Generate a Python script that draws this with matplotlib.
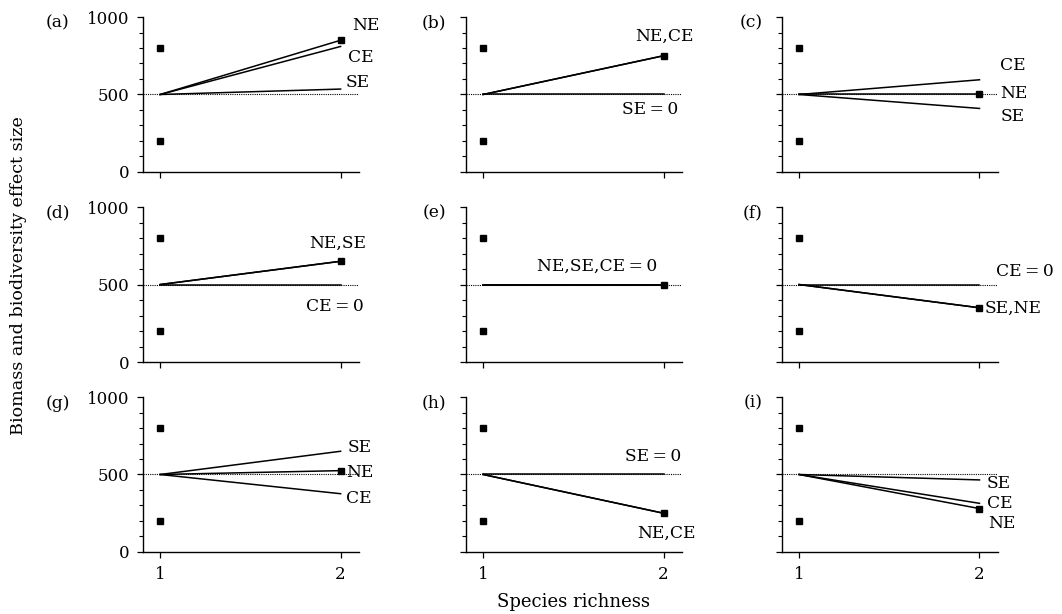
import numpy as np
import matplotlib.pyplot as plt
from matplotlib.ticker import MultipleLocator

plt.rcParams['font.family'] = ['DejaVu Serif']

# Data
panel_tags = ['(a)', '(b)', '(c)', '(d)', '(e)', '(f)', '(g)', '(h)', '(i)']
richness = [1, 2]
mono = [800, 200]          # monoculture yields at richness 1
start = 500                # expected yield (mean of monocultures)
ne = [850, 750, 500, 650, 500, 350, 525, 250, 280]
se = [535, 500, 410, 650, 500, 350, 650, 500, 465]
ce = [810, 750, 595, 500, 500, 500, 376, 250, 314]

eq0 = '\u2009=\u20090'
# annotation text per panel: (text, x, y, ha)
notes = [
    [('NE', 2.065, 948, 'left'), ('CE', 2.04, 740, 'left'), ('SE', 2.03, 580, 'left')],
    [('NE,CE', 2.165, 874, 'right'), ('SE' + eq0, 2.08, 406, 'right')],
    [('CE', 2.115, 690, 'left'), ('NE', 2.115, 505, 'left'), ('SE', 2.115, 355, 'left')],
    [('NE,SE', 2.14, 768, 'right'), ('CE' + eq0, 2.13, 361, 'right')],
    [('NE,SE,CE' + eq0, 1.965, 619, 'right')],
    [('CE' + eq0, 2.09, 581, 'left'), ('SE,NE', 2.03, 348, 'left')],
    [('SE', 2.04, 671, 'left'), ('NE', 2.03, 516, 'left'), ('CE', 2.03, 342, 'left')],
    [('SE' + eq0, 2.1, 619, 'right'), ('NE,CE', 2.18, 123, 'right')],
    [('SE', 2.04, 445, 'left'), ('CE', 2.04, 310, 'left'), ('NE', 2.05, 181, 'left')],
]

fs_tick = 12
fs_note = 12.3

fig = plt.figure(figsize=(10.62, 6.14), dpi=100)
lefts = [0.1347, 0.4388, 0.7363]
bottoms = [0.7199, 0.4104, 0.1010]
w, h = 0.2030, 0.2524

for i in range(9):
    r, c = divmod(i, 3)
    ax = fig.add_axes([lefts[c], bottoms[r], w, h])
    ax.set_xlim(0.905, 2.1)
    ax.set_ylim(0, 1000)

    ax.axhline(start, color='k', lw=0.8, ls=(0, (1, 1)), zorder=1)
    for val in (ce[i], se[i], ne[i]):
        ax.plot(richness, [start, val], color='k', lw=1.1, zorder=2)
    ax.plot([1, 1], mono, 'ks', ms=5, zorder=3)
    ax.plot([2], [ne[i]], 'ks', ms=5, zorder=3)

    for txt, x, y, ha in notes[i]:
        ax.text(x, y, txt, ha=ha, va='center', fontsize=fs_note, clip_on=False)

    for s in ('top', 'right'):
        ax.spines[s].set_visible(False)
    for s in ('left', 'bottom'):
        ax.spines[s].set_linewidth(1.0)

    ax.set_xticks(richness)
    ax.set_yticks([0, 500, 1000])
    ax.yaxis.set_minor_locator(MultipleLocator(100))
    ax.tick_params(direction='out', length=4, width=0.9, pad=6)
    ax.tick_params(which='minor', direction='out', length=3, width=0.8)
    if r < 2:
        ax.set_xticklabels([])
    else:
        ax.set_xticklabels(['1', '2'], fontsize=fs_tick)
    if c > 0:
        ax.set_yticklabels([])
    else:
        ax.set_yticklabels(['0', '500', '1000'], fontsize=fs_tick)

    xoff = -0.34 if c == 0 else -0.09
    ax.text(xoff, 0.96, panel_tags[i], transform=ax.transAxes,
            ha='right', va='center', fontsize=fs_note)

fig.text(0.017, 0.552, 'Biomass and biodiversity effect size', rotation=90,
         ha='center', va='center', fontsize=12.6)
fig.text(0.540, 0.02, 'Species richness', ha='center', va='center', fontsize=13)

fig.savefig('out.png', dpi=100)
